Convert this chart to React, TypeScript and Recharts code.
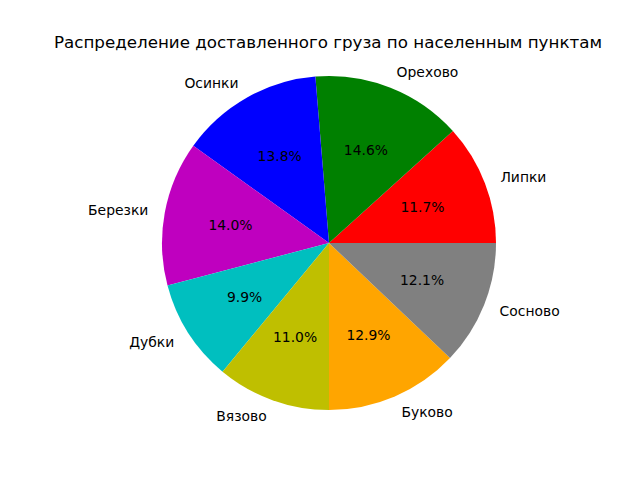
import React from 'react';
import { PieChart, Pie, Cell } from 'recharts';

const places = ['Липки', 'Орехово', 'Осинки', 'Березки', 'Дубки', 'Вязово', 'Буково', 'Сосново'];
const shares = [11.7, 14.6, 13.8, 14.0, 9.9, 11.0, 12.9, 12.1];
const colors = ['#ff0000', '#008000', '#0000ff', '#bf00bf', '#00bfbf', '#bfbf00', '#ffa500', '#808080'];

const data = places.map((name, i) => ({ name, value: shares[i] }));

const RAD = Math.PI / 180;

function renderLabel(props: any) {
  const { cx, cy, midAngle, outerRadius, percent, name } = props;
  const c = Math.cos(midAngle * RAD);
  const s = Math.sin(midAngle * RAD);
  const px = cx + outerRadius * 0.6 * c;
  const py = cy - outerRadius * 0.6 * s;
  const lx = cx + outerRadius * 1.1 * c;
  const ly = cy - outerRadius * 1.1 * s;
  const anchor = Math.abs(c) < 1e-6 ? 'middle' : c > 0 ? 'start' : 'end';
  return (
    <g>
      <text x={px} y={py} textAnchor="middle" dominantBaseline="central" fill="#000" fontSize={13.9}>
        {(percent * 100).toFixed(1)}%
      </text>
      <text x={lx} y={ly} textAnchor={anchor} dominantBaseline="central" fill="#000" fontSize={13.9}>
        {name}
      </text>
    </g>
  );
}

export default function App() {
  return (
    <div style={{ position: 'absolute', left: 0, top: 0, width: 640, height: 480, background: '#fff', fontFamily: '"DejaVu Sans", sans-serif' }}>
      <div style={{ position: 'absolute', left: 0, top: 32, width: 656, textAlign: 'center', fontSize: 16.7 }}>
        Распределение доставленного груза по населенным пунктам
      </div>
      <PieChart width={640} height={480} margin={{ top: 0, right: 0, bottom: 0, left: 0 }}>
        <Pie
          data={data}
          dataKey="value"
          nameKey="name"
          cx={329}
          cy={243}
          outerRadius={167}
          startAngle={0}
          endAngle={360}
          label={renderLabel}
          labelLine={false}
          stroke="none"
          isAnimationActive={false}
        >
          {data.map((d, i) => (
            <Cell key={d.name} fill={colors[i]} />
          ))}
        </Pie>
      </PieChart>
    </div>
  );
}
